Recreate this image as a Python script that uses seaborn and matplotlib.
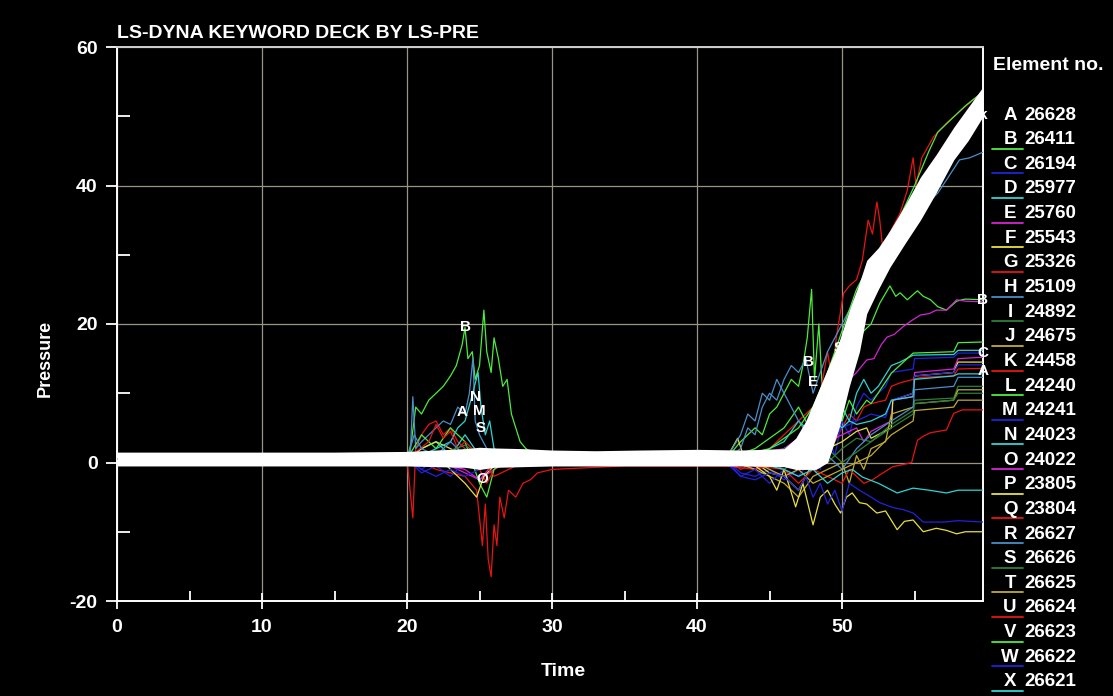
import matplotlib
matplotlib.use("Agg")
import matplotlib.pyplot as plt
from matplotlib.lines import Line2D
from matplotlib.ticker import MultipleLocator
import seaborn as sns

# element curves: (time, pressure) knots
A = [(0,0.5),(20,0.5),(20.4,-8),(20.6,2),(21,4),(21.5,5.5),(22,6),(22.5,4),(23,5),(23.5,3),(24,2),(24.5,1),(25,-1),(25.5,-3),(26,-1),(27,0),(30,0.3),(42,0.5),(43,-1),(44,0),(45,2),(46,4),(47,6),(48,8),(48.5,3),(49,6),(49.5,3),(50,5),(50.5,7),(51,6),(51.5,8),(52,8.5),(53,9),(53.4,11),(54,11.5),(54.9,12),(55.5,12.3),(57.7,12.5),(58,13.5),(59.7,13.6)]
B = [(0,0.5),(20,0.5),(20.3,3),(20.6,8),(21,7),(21.5,9),(22,10),(22.5,11),(23,12.5),(23.4,14),(23.8,17),(24,19.5),(24.2,15),(24.5,16),(24.7,12),(25,14),(25.3,22),(25.5,16),(25.8,13),(26,18),(26.3,15),(26.6,11),(26.9,12),(27.2,7),(27.5,5),(27.8,3),(28.2,2),(29,1),(30,0.5),(42,0.5),(43,3),(44,5),(44.5,4),(45,7),(45.5,8),(46,10),(46.5,12),(47,11),(47.3,14),(47.6,18),(47.9,25),(48.1,12),(48.4,20),(48.7,8),(49,3),(49.5,6),(50,11),(50.5,15),(51,17),(51.5,19),(52,20),(52.6,23),(53.3,25.5),(53.7,24),(54,24.5),(54.5,23.5),(55.2,24.8),(55.6,24),(56.1,23.5),(56.6,22.5),(57.2,22),(57.9,23.3),(58.5,23.6),(59.7,23.5)]
C = [(0,0.5),(20,0.5),(21,-1),(22,0.5),(23,-0.5),(24,1),(25,-1),(26,0.5),(42,0.5),(43,-1.5),(44,-2),(45,-1),(46,-2.5),(47,-1),(48,2),(48.5,-1),(49,4),(49.5,1),(50,6),(50.5,4),(51,8),(51.5,10),(52,9),(53,11),(53.4,13),(54.9,13.5),(55,15),(57.7,15.2),(58,15.8),(59.7,15.8)]
D = [(0,0.5),(20,0.5),(21,2),(22,3),(23,1),(24,4),(25,1),(26,0),(42,0.5),(45,1),(47,3),(48,6),(49,3),(50,8),(50.5,6),(51,10),(51.5,12),(52,10),(52.5,11),(53.4,14),(54,14.5),(54.9,15.5),(57.7,15.6),(58,16.2),(59.7,16.2)]
E = [(0,0.5),(20,0.5),(21,0),(22,1),(23,-0.5),(24,-1.5),(25,-2.5),(26,-1),(27,0.5),(42,0.5),(44,-1),(46,1),(48,4),(49,3),(50,4),(51,5),(51.5,3),(52,4.5),(53.4,6),(53.5,9),(54.9,9.5),(55,13),(57.7,13.5),(58,15),(59.7,15.2)]
F = [(0,0.5),(20,0.5),(21,2),(22,3),(23,2),(24,1),(25,-1),(26,0.5),(42,0.5),(42.8,3.5),(43.2,1),(44,0),(45,-1.5),(46,-2),(47,-4),(48,0),(49,2),(50,3),(51,4.5),(51.7,5),(52,3.5),(53.4,5),(53.5,9),(54.9,10),(55,12.5),(57.7,13),(58,14.5),(59.7,14.5)]
G = [(0,0.5),(20,0.5),(21,0),(22,-1),(23,-1.5),(24,-2),(24.8,-4),(25.2,-12),(25.4,-6),(25.6,-14),(25.8,-16.5),(26,-9),(26.2,-12),(26.4,-5),(26.7,-8),(27,-4),(27.5,-5),(28,-3),(28.5,-2.5),(29,-1.5),(30,-1),(35,-0.5),(42,-0.5),(44,-1),(46,0),(47,2),(48,5),(48.5,10),(49,16),(49.3,12),(49.6,18),(50.1,24.4),(50.5,25.5),(51,26.4),(51.4,29.2),(51.8,35),(52.1,33),(52.4,37.6),(52.6,35),(52.8,31),(53.5,33),(54.5,37),(55.5,40),(56.5,43),(57.5,46),(58.5,48),(59.7,50)]
H = [(0,0.5),(20,0.5),(20.2,0),(20.4,9.5),(20.6,2),(21,3),(21.5,4),(22,5),(22.5,6),(23,5.5),(23.5,8),(24,7),(24.3,10),(24.55,15.2),(24.7,6),(25,4),(25.5,2),(26,1),(28,0.5),(42,0.5),(43,2),(43.5,5),(44,4),(44.5,8),(45,10),(45.5,9),(46,12),(46.5,14),(47,13),(47.5,15),(48,10),(48.5,13),(49,16),(50,20),(51,24),(52,28),(53,31),(54,33),(55,35.5),(55.9,37.5),(56.6,38.9),(57.2,40.8),(58.1,43.7),(58.8,44),(59.7,44.8)]
I = [(0,0.5),(20,0.5),(22,1.5),(23,0.5),(24,2),(25,0),(27,0.5),(42,0.5),(44,1),(46,-1),(48,2),(49,0),(50,2),(51,3.5),(52,3),(53.4,5.5),(54.9,7.5),(55,9),(57.7,9.3),(58,11),(59.7,11)]
J = [(0,0.5),(20,0.5),(22,1),(24,-0.5),(26,0.5),(42,0.5),(44,-1),(46,-3),(47,-5),(48,-2),(49,-1),(50,0),(50.5,-3),(51,1),(51.5,-1),(52,2),(53,3),(53.4,7),(54.9,8),(55,8.5),(57.7,9),(58,10.5),(59.7,10.5)]
K = [(0,0.5),(42,0.5),(46,1),(48,3),(49.5,10),(51,20),(52.5,27),(54,33),(55.5,38),(57,44),(58.5,48.5),(59.7,51)]
L = [(0,0.5),(20,0.5),(21,4),(22,2),(23,5),(24,3),(25,-3),(25.5,-5),(26,-1),(27,0.5),(42,0.5),(44,2),(46,5),(47,8),(48,4),(49,9),(50,6),(50.5,9),(51,7),(51.7,9),(52,8.5),(53.4,12.9),(54.9,15.8),(57.7,16),(58,17.3),(59.7,17.4)]
M = [(0,0.5),(20,0.5),(21,-1.5),(22,-0.5),(23,-2),(24,0),(25,-1),(26,0),(42,0.5),(43,-2),(44,-1),(45,-3),(46,-1),(47,-2),(48,1),(49,3),(50,5),(51,6),(52,7),(53,6.5),(53.4,9),(54.9,10),(55,12.5),(57.7,13),(58,14.1),(59.7,14.1)]
N = [(0,0.5),(20,0.5),(21,1),(22,2),(23,3),(23.5,5),(24,6),(24.4,9),(24.9,13),(25.1,8),(25.4,4),(25.7,6),(26,2),(27,1),(42,0.5),(44,1),(46,3),(47,6),(48,4),(49,7),(50,5),(50.5,6),(51,5.5),(52,6),(53,7),(53.4,9),(54.9,9.5),(55,12),(57.7,12.5),(58,12.8),(59.7,12.8)]
O = [(0,0.5),(20,0.5),(22,0),(24,-1),(25,-2.5),(26,0),(42,0.5),(46,2),(48,5),(49,8),(50,11),(50.5,12),(51,13),(51.7,14.8),(52.2,15),(52.7,17),(53.1,18.1),(53.6,18.5),(54.2,19.6),(54.8,20.5),(55.4,21.3),(56,21.5),(56.5,22),(57.2,22),(57.9,23.5),(58.5,23.3),(59.7,23.2)]
P = [(0,0.5),(20,0.5),(22,1),(23,-1),(24,-3),(24.8,-5),(25.3,-2),(26,-0.5),(28,0),(42,0.3),(43,1),(44,-0.5),(45,-2),(45.5,-4),(46,-1),(46.8,-6.4),(47.3,-3),(48,-9),(48.5,-5),(49,-4),(49.5,-6),(49.9,-7.3),(50.3,-5),(50.7,-4.4),(51.2,-5.8),(51.7,-6),(52.4,-7.3),(53,-7),(53.8,-9.7),(54.3,-8.5),(54.9,-8.3),(55.6,-10),(56.5,-9.5),(57.2,-9.8),(57.9,-10.3),(58.5,-10),(59.7,-10)]
Q = [(0,0.5),(20,0.5),(21.5,3),(22,5.5),(22.5,3.5),(23,4.5),(23.5,2),(24,3),(25,1),(26,-2),(27,-1),(28,0),(42,0.2),(44,-0.5),(46,-1),(47,-3),(48,-1),(49,-2),(50,-3),(50.5,-1),(51,-2),(51.5,-3),(52.1,-2.5),(52.6,-1.8),(53.5,-0.6),(54.2,-0.3),(54.8,0),(55.2,3.2),(55.6,3.8),(56.1,4.3),(57.2,4.7),(57.7,7.1),(58.3,7.6),(59.7,7.6)]
R = [(0,0.5),(20,0.5),(20.5,4),(21,2),(22,1),(23,3),(24,1),(25,0),(42,0.5),(43,4),(43.5,7),(44,6),(44.5,10),(45,9),(45.5,12),(46,10),(47,6),(48,3),(49,1),(50,-1),(51,2),(52,4),(53.4,6),(54.9,8),(55,10.5),(57.7,11),(58,12.3),(59.7,12.3)]
S = [(0,0.5),(20,0.5),(22,1),(24,2.5),(25,1),(27,0.5),(42,0.5),(45,1),(47,3),(48,1),(49,2),(50,0),(51,1.5),(52,3),(53.4,5),(54.9,7),(55,8.5),(57.7,9),(58,10),(59.7,10)]
T = [(0,0.5),(20,0.5),(22,-0.5),(24,1),(26,0),(42,0.5),(44,0),(46,-2),(47,-1),(48,-3),(49,-2),(50,-1),(51,0),(52,1),(53.4,4),(54.9,6),(55,7.5),(57.7,8),(58,9),(59.7,9)]
U = [(0,0.5),(42,0.5),(46,1),(47,2),(48,4),(49,8),(50,15),(51,22),(52,28),(53,32),(54,36),(54.5,39.3),(54.9,44),(55.1,40),(55.5,44),(56.3,47),(57.2,49),(58,50.5),(59,52.3),(59.7,53.5)]
V = [(0,0.5),(42,0.5),(45,2),(47,5),(48,8),(49,13),(50,19),(51,25),(52,29),(53,32),(54,35.5),(55,40),(56,45),(56.6,47.7),(57.5,49.5),(58.5,51.5),(59.7,53.5)]
W = [(0,0.5),(20,0.5),(21,-1),(22,-2),(23,-1),(24,-2),(25,-1),(27,0),(42,0),(43,-2),(44,-2.5),(45,-1.5),(46,-2),(47,-4),(47.5,-2),(48,-5),(48.5,-3),(49,-6),(49.5,-4),(50,-7),(50.5,-3),(51.2,-4),(52,-5),(52.6,-5.8),(53.5,-6.5),(54.2,-6.8),(54.9,-7.3),(55.6,-8.6),(57,-8.6),(58,-8.4),(59.7,-8.6)]
X = [(0,0.5),(20,0.5),(23,1),(25,0),(27,0.5),(42,0.3),(44,0),(46,-1),(47,-2),(48,-1),(49,-3),(50,-1.5),(50.7,-1),(51.4,-2.1),(52.5,-3),(53.8,-4.4),(54.9,-3.7),(56,-4),(57.2,-4.4),(58,-4),(59.7,-4)]

letters = list("ABCDEFGHIJKLMNOPQRSTUVWX")
curves = [A, B, C, D, E, F, G, H, I, J, K, L, M, N, O, P, Q, R, S, T, U, V, W, X]
elements = [26628, 26411, 26194, 25977, 25760, 25543, 25326, 25109, 24892, 24675, 24458, 24240,
            24241, 24023, 24022, 23805, 23804, 26627, 26626, 26625, 26624, 26623, 26622, 26621]
palette = ["#e81414", "#4cec3c", "#2222dc", "#30d4d4", "#d424d4", "#e8e040",
           "#e81414", "#4a8ec8", "#2e7e3a", "#c0ac30"]
colors = [palette[i % 10] for i in range(24)]

# the dense trail of white letter markers
band_t = [0, 5, 10, 15, 20, 22, 24, 25, 26, 28, 30, 33, 36, 40, 43, 46, 46.8, 47.5, 48.2, 49.0, 49.8, 50.5, 51.2, 51.7, 52.5, 53.3, 54.3, 55.4, 56.5, 57.7, 58.7, 59.7]
band_hi = [1.5, 1.5, 1.5, 1.5, 1.6, 1.8, 2.0, 2.2, 2.1, 2.0, 1.8, 1.7, 1.8, 1.9, 1.8, 2, 3.5, 6, 9.5, 13.5, 17.5, 22, 26, 29.2, 31, 33.5, 37, 41.2, 44.5, 48.4, 51.3, 54.2]
band_lo = [-0.5, -0.5, -0.5, -0.5, -0.5, -0.6, -0.7, -1.0, -0.7, -0.6, -0.5, -0.5, -0.5, -0.5, -0.5, -0.6, -1, -1, -1, 0, 5, 11, 16, 21.5, 25, 28.2, 31.5, 35, 39, 43.7, 46.5, 49.9]

curve_labels = [("B", 24.0, 19.6), ("N", 24.7, 9.5), ("A", 23.8, 7.3), ("M", 25.0, 7.4), ("S", 25.1, 5.0),
                ("O", 25.2, -2.4), ("B", 47.7, 14.5), ("E", 48.0, 11.6), ("S", 49.8, 16.6),
                ("B", 50.5, 16.4), ("k", 59.7, 50.2), ("B", 59.7, 23.5), ("C", 59.7, 15.8), ("A", 59.7, 13.2)]

sns.set_theme(style="dark", rc={"axes.facecolor": "black", "figure.facecolor": "black"})
plt.rcParams["font.family"] = ["Liberation Sans", "DejaVu Sans"]
plt.rcParams["font.weight"] = "bold"
plt.rcParams["axes.unicode_minus"] = False
narrow = ["Liberation Sans Narrow", "Liberation Sans", "DejaVu Sans"]

W_PX, H_PX = 1113, 696
fig = plt.figure(figsize=(W_PX / 100, H_PX / 100), dpi=100)
ax = fig.add_axes([117 / W_PX, 1 - 601 / H_PX, 866 / W_PX, 554 / H_PX])

for pts, c in zip(curves, colors):
    t, p = zip(*pts)
    sns.lineplot(x=list(t), y=list(p), ax=ax, color=c, lw=0.9, sort=False, estimator=None, zorder=3)

ax.fill_between(band_t, band_lo, band_hi, color="white", lw=0, zorder=4)

for txt, t, p in curve_labels:
    ax.text(t, p, txt, color="white", fontsize=11, fontweight="bold", ha="center", va="center",
            zorder=6, clip_on=False)

ax.set_xlim(0, 59.72)
ax.set_ylim(-20, 60)
ax.xaxis.set_major_locator(MultipleLocator(10))
ax.xaxis.set_minor_locator(MultipleLocator(5))
ax.yaxis.set_major_locator(MultipleLocator(20))
ax.yaxis.set_minor_locator(MultipleLocator(10))
ax.grid(which="major", color="#9a9482", lw=0.9, zorder=1)
ax.grid(which="minor", visible=False)
ax.set_axisbelow(True)
for s in ax.spines.values():
    s.set_visible(True)
    s.set_color("white")
    s.set_linewidth(1.4)
ax.spines["top"].set_color("#cfcfcf")

ax.tick_params(axis="x", which="major", direction="inout", length=12, width=1.3, colors="white",
               labelsize=14, pad=7, bottom=True)
ax.tick_params(axis="x", which="minor", direction="in", length=7, width=1.3, colors="white", bottom=True)
ax.tick_params(axis="y", which="major", direction="out", length=8, width=1.3, colors="white",
               labelsize=14, pad=6, left=True)
ax.tick_params(axis="y", which="minor", direction="in", length=9, width=1.3, colors="white", left=True)
for lab in ax.get_xticklabels() + ax.get_yticklabels():
    lab.set_fontweight("bold")
    lab.set_family(narrow)

ax.set_xlabel("Time", color="white", fontsize=14, fontweight="bold")
ax.set_ylabel("Pressure", color="white", fontsize=13, fontweight="bold")
ax.xaxis.set_label_coords((563 - 117) / 866, (601 - 672) / 554)
ax.xaxis.label.set_va("center")
ax.yaxis.set_label_coords((45 - 117) / 866, (601 - 358) / 554)
ax.yaxis.label.set_va("center")

fig.text(117 / W_PX, 1 - 33 / H_PX, "LS-DYNA KEYWORD DECK BY LS-PRE", color="white", fontsize=14,
         fontweight="bold", ha="left", va="center")

# legend
fig.text(993 / W_PX, 1 - 65 / H_PX, "Element no.", color="white", fontsize=14, fontweight="bold",
         ha="left", va="center")
for i, (letter, num, c) in enumerate(zip(letters, elements, colors)):
    yc = 115 + i * 24.65
    fy = 1 - yc / H_PX
    if letter != "A":
        fig.add_artist(Line2D([992 / W_PX, 1023 / W_PX], [1 - (yc + 9) / H_PX] * 2, color=c, lw=1.3))
    fig.text(1010 / W_PX, fy, letter, color="white", fontsize=13.5, fontweight="bold", ha="center", va="center")
    fig.text(1024 / W_PX, fy, str(num), color="white", fontsize=13.5, fontweight="bold", ha="left", va="center")

fig.savefig("out.png", dpi=100, facecolor="black")
